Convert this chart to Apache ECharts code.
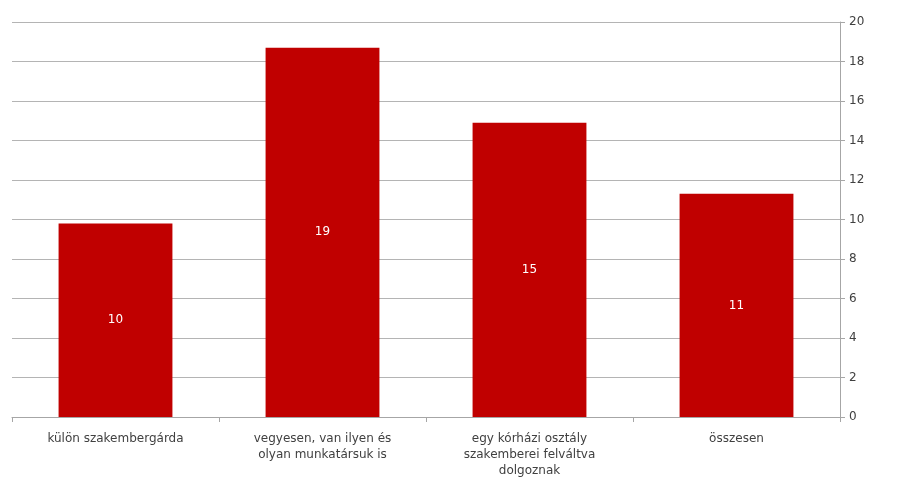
<!DOCTYPE html>
<html>
<head>
<meta charset="utf-8">
<script src="https://cdn.jsdelivr.net/npm/echarts@6/dist/echarts.min.js"></script>
<style>
  html, body { margin: 0; padding: 0; background: #fff; }
  #chart { width: 902px; height: 479px; }
</style>
</head>
<body>
<div id="chart"></div>
<script>
const categories = [
  'külön szakembergárda',
  'vegyesen, van ilyen és\nolyan munkatársuk is',
  'egy kórházi osztály\nszakemberei felváltva\ndolgoznak',
  'összesen'
];
const values = [9.8, 18.7, 14.9, 11.3];
const yTicks = { min: 0, max: 20, interval: 2 };

const chart = echarts.init(document.getElementById('chart'));
chart.setOption({
  animation: false,
  backgroundColor: '#fff',
  grid: { left: 12, right: 62, top: 22, bottom: 62 },
  xAxis: {
    type: 'category',
    data: categories,
    axisLine: { show: true, lineStyle: { color: '#a6a6a6' } },
    axisTick: { show: true, alignWithLabel: false, length: 5, lineStyle: { color: '#a6a6a6' } },
    axisLabel: {
      color: '#404040', fontFamily: 'DejaVu Sans', fontSize: 12,
      lineHeight: 16, margin: 14, interval: 0
    }
  },
  yAxis: {
    type: 'value',
    position: 'right',
    min: yTicks.min, max: yTicks.max, interval: yTicks.interval,
    axisLine: { show: true, lineStyle: { color: '#a6a6a6' } },
    axisTick: { show: true, length: 5, lineStyle: { color: '#a6a6a6' } },
    splitLine: { show: true, lineStyle: { color: '#b4b4b4', width: 1 } },
    axisLabel: { color: '#404040', fontFamily: 'DejaVu Sans', fontSize: 12, margin: 9 }
  },
  series: [{
    type: 'bar',
    data: values,
    barWidth: '55%',
    itemStyle: { color: '#c00000' },
    label: {
      show: true,
      position: 'inside',
      color: '#fff',
      fontFamily: 'DejaVu Sans',
      fontSize: 12,
      formatter: p => Math.round(p.value)
    }
  }]
});
</script>
</body>
</html>
